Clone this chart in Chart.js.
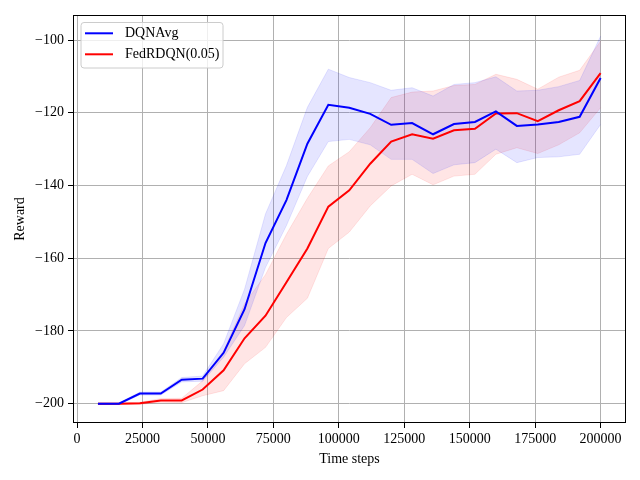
<!DOCTYPE html>
<html>
<head>
<meta charset="utf-8">
<script src="https://cdn.jsdelivr.net/npm/chart.js@4.4.1/dist/chart.umd.min.js"></script>
<style>
html,body{margin:0;padding:0;background:#fff;}
#wrap{width:640px;height:480px;position:relative;}
</style>
</head>
<body>
<div id="wrap"><canvas id="c" width="640" height="480"></canvas></div>
<script>
const steps = [8000,16000,24000,32000,40000,48000,56000,64000,72000,80000,88000,96000,104000,112000,120000,128000,136000,144000,152000,160000,168000,176000,184000,192000,200000];

const dqnMean  = [-200,-200,-197.2,-197.2,-193.4,-193.1,-186,-174,-155.8,-144,-128.5,-117.8,-118.6,-120.3,-123.3,-122.8,-125.9,-123.1,-122.5,-119.6,-123.6,-123.2,-122.5,-121.1,-110.4];
const dqnUpper = [-199.8,-199.8,-196.8,-196.8,-192.8,-192.4,-183.5,-168.5,-147.8,-134.5,-118.5,-108,-110.3,-111.7,-113.8,-113.1,-115.4,-112.2,-111.7,-110.1,-114,-113.8,-112.8,-111.1,-98.9];
const dqnLower = [-200.2,-200.2,-197.6,-197.6,-194,-193.8,-187.2,-178.5,-162.5,-151,-137.5,-127.9,-127.3,-128.8,-132.8,-132.8,-136.7,-134.3,-133.7,-130,-133.7,-132.3,-132.1,-131.4,-123.2];

const fedMean  = [-200,-200,-199.9,-199.1,-199.1,-196.1,-190.8,-182,-175.8,-166.6,-157.3,-145.8,-141.3,-134,-127.9,-125.9,-127.1,-124.8,-124.4,-120.2,-120.1,-122.3,-119.3,-116.8,-109.1];
const fedUpper = [-199.8,-199.8,-199.6,-198.6,-198.5,-193.7,-185.4,-172.5,-164.5,-153.4,-143.5,-134.6,-130.7,-124.1,-115.8,-114.3,-114,-112.5,-112.2,-109.4,-110.8,-113.5,-110.2,-108.3,-100.3];
const fedLower = [-200.2,-200.2,-200.2,-199.6,-199.7,-197.8,-196.4,-189,-184.5,-176.3,-171,-157.3,-152.8,-145.6,-140.1,-136.9,-139.8,-137.4,-136.9,-131.4,-129.6,-131.2,-128.8,-125.5,-118.6];

const seriesNames = ['DQNAvg','FedRDQN(0.05)'];
const xTicks = [0,25000,50000,75000,100000,125000,150000,175000,200000];
const yTicks = [-200,-180,-160,-140,-120,-100];

const FONT = '"Liberation Serif","Times New Roman",serif';
const pts = arr => arr.map((v,i)=>({x:steps[i], y:v}));

const lineDs = (label, arr, color) => ({
  label, data: pts(arr), borderColor: color, backgroundColor: color,
  borderWidth: 2, pointRadius: 0, fill: false, tension: 0, order: 0
});
const bandDs = (arr, edge, fill, fillTarget) => ({
  label: '', data: pts(arr), borderColor: edge, borderWidth: 1,
  backgroundColor: fill, pointRadius: 0, tension: 0, fill: fillTarget, order: 1
});

const frameAndLegend = {
  id: 'frameAndLegend',
  afterDraw(chart) {
    const ctx = chart.ctx;
    const a = chart.chartArea;
    ctx.save();
    ctx.strokeStyle = '#000';
    ctx.lineWidth = 1;
    ctx.strokeRect(Math.round(a.left)+0.5, Math.round(a.top)+0.5, Math.round(a.right-a.left)-1, Math.round(a.bottom-a.top)-1);
    // legend
    const lx = a.left + 8, ly = a.top + 7.5, lw = 142, lh = 45.5, r = 3;
    ctx.beginPath();
    ctx.moveTo(lx+r, ly);
    ctx.lineTo(lx+lw-r, ly); ctx.quadraticCurveTo(lx+lw, ly, lx+lw, ly+r);
    ctx.lineTo(lx+lw, ly+lh-r); ctx.quadraticCurveTo(lx+lw, ly+lh, lx+lw-r, ly+lh);
    ctx.lineTo(lx+r, ly+lh); ctx.quadraticCurveTo(lx, ly+lh, lx, ly+lh-r);
    ctx.lineTo(lx, ly+r); ctx.quadraticCurveTo(lx, ly, lx+r, ly);
    ctx.closePath();
    ctx.fillStyle = 'rgba(255,255,255,0.8)';
    ctx.fill();
    ctx.strokeStyle = '#cccccc';
    ctx.lineWidth = 1;
    ctx.stroke();
    const ds = chart.data.datasets;
    [0,1].forEach((k) => {
      const y = ly + 10.8 + k*21;
      ctx.strokeStyle = ds[k].borderColor;
      ctx.lineWidth = 2;
      ctx.beginPath(); ctx.moveTo(lx+4, y); ctx.lineTo(lx+32, y); ctx.stroke();
      ctx.fillStyle = '#000';
      ctx.font = '14px ' + FONT;
      ctx.textBaseline = 'middle';
      ctx.textAlign = 'left';
      ctx.fillText(ds[k].label, lx+44, y+0.5);
    });
    ctx.restore();
  }
};

const keepTicks = list => scale => {
  scale.ticks = list.map(v => ({value: v}));
};
const minusFmt = v => (v < 0 ? '\u2212' + Math.abs(v) : String(v));

new Chart(document.getElementById('c'), {
  type: 'line',
  data: {
    datasets: [
      lineDs(seriesNames[0], dqnMean, '#0000ff'),
      lineDs(seriesNames[1], fedMean, '#ff0000'),
      bandDs(dqnUpper, 'rgba(0,0,255,0.1)', 'rgba(0,0,255,0.1)', 3),
      bandDs(dqnLower, 'rgba(0,0,255,0.1)', 'rgba(0,0,255,0.1)', false),
      bandDs(fedUpper, 'rgba(255,0,0,0.1)', 'rgba(255,0,0,0.1)', 5),
      bandDs(fedLower, 'rgba(255,0,0,0.1)', 'rgba(255,0,0,0.1)', false)
    ]
  },
  options: {
    responsive: false,
    animation: false,
    devicePixelRatio: 1,
    layout: { padding: { top: 15, right: 14, left: 0, bottom: 0 } },
    plugins: { legend: { display: false }, tooltip: { enabled: false } },
    scales: {
      x: {
        type: 'linear', min: -1530, max: 209700,
        afterBuildTicks: keepTicks(xTicks),
        afterFit: s => { s.height = 57; },
        grid: { color: '#b0b0b0', lineWidth: 1, drawTicks: true, tickLength: 5, tickColor: '#000' },
        border: { display: false },
        ticks: { color: '#000', font: { family: FONT, size: 14 }, padding: 3, maxRotation: 0, autoSkip: false, callback: v => String(v) },
        title: { display: true, text: 'Time steps', color: '#000', font: { family: FONT, size: 14 }, padding: { top: 0, bottom: 12 } }
      },
      y: {
        type: 'linear', min: -205.3, max: -93.1,
        afterBuildTicks: keepTicks(yTicks),
        afterFit: s => { s.width = 73; },
        grid: { color: '#b0b0b0', lineWidth: 1, drawTicks: true, tickLength: 5, tickColor: '#000' },
        border: { display: false },
        ticks: { color: '#000', font: { family: FONT, size: 14 }, padding: 4, autoSkip: false, callback: minusFmt },
        title: { display: true, text: 'Reward', color: '#000', font: { family: FONT, size: 14 }, padding: { top: 12, bottom: 0 } }
      }
    }
  },
  plugins: [frameAndLegend]
});
</script>
</body>
</html>
